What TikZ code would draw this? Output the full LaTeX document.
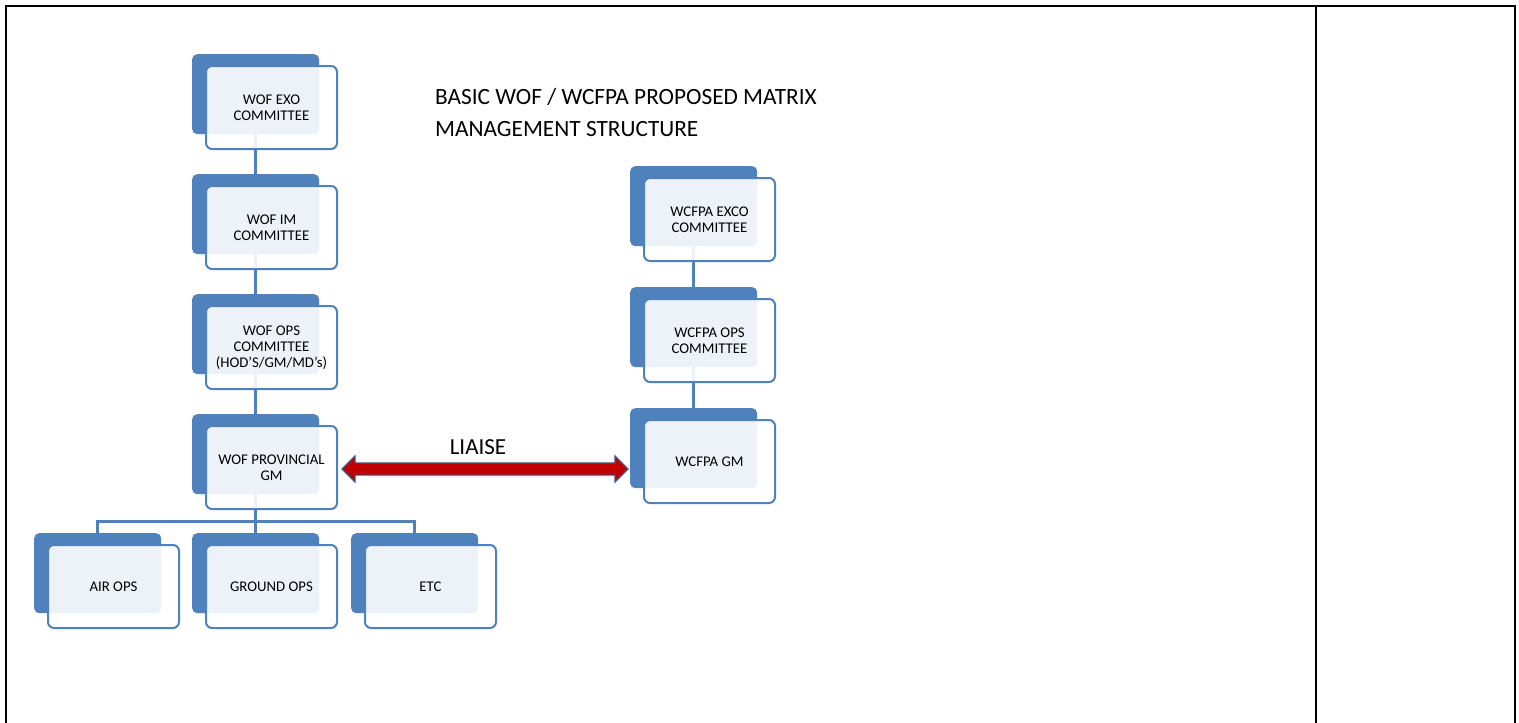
\documentclass[tikz,border=0pt]{standalone}
\usepackage{fontspec}
\setmainfont{Carlito}
\usetikzlibrary{calc,shapes.arrows}
\pgfdeclarelayer{bg}
\pgfsetlayers{bg,main}
\definecolor{smartblue}{HTML}{4F81BD}
\definecolor{liaisered}{HTML}{C00000}
\definecolor{liaiseedge}{HTML}{385D8A}

\begin{document}
\begin{tikzpicture}[x=1pt,y=-1pt]
    % dark boxes behind
    \tikzstyle{back}=[anchor=north west, fill=smartblue, rounded corners=5pt, minimum width=127pt, minimum height=80pt, inner sep=0]
    % text boxes in front
    \tikzstyle{front}=[anchor=north west, draw=smartblue, line width=2pt, fill=white, fill opacity=0.9, text opacity=1, rounded corners=6pt, minimum width=131pt, minimum height=83pt, inner sep=2pt, align=center, font=\fontsize{14.8}{16}\selectfont]
    \tikzstyle{link}=[draw=smartblue, line width=2.5pt]
    \tikzstyle{liaise}=[double arrow, draw=liaiseedge, line width=1.2pt, fill=liaisered, minimum height=286pt, minimum width=25pt, inner xsep=0, inner ysep=5.5pt, double arrow head extend=7pt]
    \useasboundingbox (0,0) rectangle (1519,723);
    % table frame
    \draw[line width=2.5pt] (6,723) -- (6,6) -- (1515,6) -- (1515,723);
    \draw[line width=2.5pt] (1316,6) -- (1316,723);
    % WOF column
    \node[back] (EXOb) at (192,54) {};
    \node[front] (EXO) at ($(EXOb.north west)+(13,11)$) {WOF EXO\\COMMITTEE};
    \node[back] (IMb) at ($(EXOb.north west)+(0,120)$) {};
    \node[front] (IM) at ($(IMb.north west)+(13,11)$) {WOF IM\\COMMITTEE};
    \node[back] (OPSb) at ($(IMb.north west)+(0,120)$) {};
    \node[front] (OPS) at ($(OPSb.north west)+(13,11)$) {WOF OPS\\COMMITTEE\\(HOD’S/GM/MD’s)};
    \node[back] (PGMb) at ($(OPSb.north west)+(0,120)$) {};
    \node[front] (PGM) at ($(PGMb.north west)+(13,11)$) {WOF PROVINCIAL\\GM};
    % units under the GM
    \node[back] (AIRb) at ($(PGMb.north west)+(-158,119)$) {};
    \node[front] (AIR) at ($(AIRb.north west)+(13,11)$) {AIR OPS};
    \node[back] (GRDb) at ($(PGMb.north west)+(0,119)$) {};
    \node[front] (GRD) at ($(GRDb.north west)+(13,11)$) {GROUND OPS};
    \node[back] (ETCb) at ($(GRDb.north west)+(159,0)$) {};
    \node[front] (ETC) at ($(ETCb.north west)+(13,11)$) {ETC};
    % WCFPA column
    \node[back] (WEXb) at ($(EXOb.north west)+(438,112)$) {};
    \node[front] (WEX) at ($(WEXb.north west)+(13,11)$) {WCFPA EXCO\\COMMITTEE};
    \node[back] (WOPSb) at ($(WEXb.north west)+(0,121)$) {};
    \node[front] (WOPS) at ($(WOPSb.north west)+(13,11)$) {WCFPA OPS\\COMMITTEE};
    \node[back] (WGMb) at ($(WOPSb.north west)+(0,121)$) {};
    \node[front] (WGM) at ($(WGMb.north west)+(13,11)$) {WCFPA GM};
    % title
    \node[anchor=north west, inner sep=0, align=left, font=\fontsize{23.3}{32}\selectfont] (title) at (435,88) {BASIC WOF / WCFPA PROPOSED MATRIX\\MANAGEMENT STRUCTURE};
    % liaise arrow
    \node[liaise] (arrow) at ($(PGM.east)!0.5!(PGM.east -| WGMb.west)+(1,1.5)$) {};
    \node[anchor=base, inner sep=0, font=\fontsize{23}{26}\selectfont] (liaiselbl) at ($(arrow.center)+(-7,-15)$) {LIAISE};
    % connectors behind the boxes
    \begin{pgfonlayer}{bg}
    \coordinate (fork) at ($(PGMb.south)+(0,27)$);
    \draw[link] (EXOb.center) -- (IMb.center);
    \draw[link] (IMb.center) -- (OPSb.center);
    \draw[link] (OPSb.center) -- (PGMb.center);
    \draw[link] (PGMb.center) -- (GRDb.center);
    \draw[link] (AIRb.center) -- (AIRb.center |- fork) -- (ETCb.center |- fork) -- (ETCb.center);
    \draw[link] (WEXb.center) -- (WOPSb.center);
    \draw[link] (WOPSb.center) -- (WGMb.center);
    \end{pgfonlayer}
\end{tikzpicture}
\end{document}
